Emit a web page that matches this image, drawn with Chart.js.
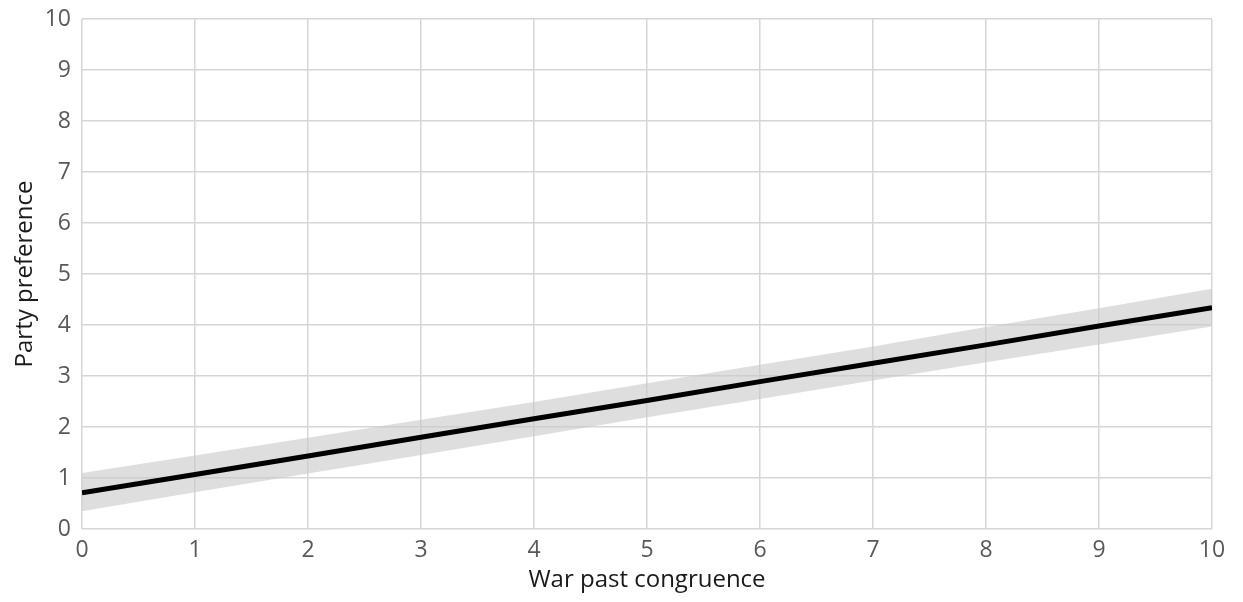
<html>
<head>
    <title>Party preference vs war past congruence</title>
    <script src="https://cdn.jsdelivr.net/npm/chart.js"></script>
    <style>
        body { margin: 0; background: #fff; }
        #wrap { width: 1243px; height: 602px; }
    </style>
</head>
<body>
    <div id="wrap"><canvas id="lineChart"></canvas></div>
    <script>
        const congruence = [0, 1, 2, 3, 4, 5, 6, 7, 8, 9, 10];
        const preference = [0.71, 1.07, 1.43, 1.80, 2.16, 2.52, 2.89, 3.25, 3.61, 3.98, 4.34];
        const upperBound = [1.10, 1.44, 1.79, 2.14, 2.49, 2.86, 3.22, 3.58, 3.96, 4.33, 4.71];
        const lowerBound = [0.35, 0.72, 1.09, 1.45, 1.82, 2.19, 2.55, 2.91, 3.27, 3.62, 3.97];
        const tickValues = [0, 1, 2, 3, 4, 5, 6, 7, 8, 9, 10];

        function toPoints(ys) {
            return congruence.map((x, i) => ({ x: x, y: ys[i] }));
        }

        const tickFont = { family: "'Open Sans', sans-serif", size: 23 };
        const titleFont = { family: "'Open Sans', sans-serif", size: 24 };
        const gridStyle = { color: '#d6d6d6', lineWidth: 1.5, drawTicks: false };

        new Chart(document.getElementById('lineChart').getContext('2d'), {
            type: 'scatter',
            data: {
                datasets: [
                    {
                        label: 'upper',
                        data: toPoints(upperBound),
                        showLine: true,
                        borderWidth: 0,
                        pointRadius: 0,
                        backgroundColor: 'rgba(200,200,200,0.6)',
                        fill: '+1'
                    },
                    {
                        label: 'lower',
                        data: toPoints(lowerBound),
                        showLine: true,
                        borderWidth: 0,
                        pointRadius: 0,
                        fill: false
                    },
                    {
                        label: 'Party preference',
                        data: toPoints(preference),
                        showLine: true,
                        borderColor: '#000',
                        borderWidth: 5,
                        pointRadius: 0,
                        fill: false
                    }
                ]
            },
            options: {
                responsive: true,
                maintainAspectRatio: false,
                animation: false,
                layout: { padding: { top: 19, right: 31, left: 0, bottom: 0 } },
                plugins: {
                    legend: { display: false },
                    tooltip: { enabled: false },
                    filler: { drawTime: 'beforeDatasetsDraw' }
                },
                scales: {
                    x: {
                        type: 'linear',
                        min: 0,
                        max: 10,
                        afterBuildTicks: s => { s.ticks = tickValues.map(v => ({ value: v })); },
                        afterFit: s => { s.height = 73; s.paddingLeft = 0; s.paddingRight = 0; },
                        grid: gridStyle,
                        border: { display: false },
                        ticks: { font: tickFont, color: '#595959', padding: 8 },
                        title: {
                            display: true,
                            text: 'War past congruence',
                            font: titleFont,
                            color: '#1a1a1a',
                            padding: { top: 0, bottom: 7 }
                        }
                    },
                    y: {
                        min: 0,
                        max: 10,
                        afterBuildTicks: s => { s.ticks = tickValues.map(v => ({ value: v })); },
                        afterFit: s => { s.width = 82; s.paddingTop = 0; s.paddingBottom = 0; },
                        grid: gridStyle,
                        border: { display: false },
                        ticks: { font: tickFont, color: '#595959', padding: 11 },
                        title: {
                            display: true,
                            text: 'Party preference',
                            font: titleFont,
                            color: '#1a1a1a',
                            padding: { top: 11, bottom: 0 }
                        }
                    }
                }
            }
        });
    </script>
</body>
</html>
